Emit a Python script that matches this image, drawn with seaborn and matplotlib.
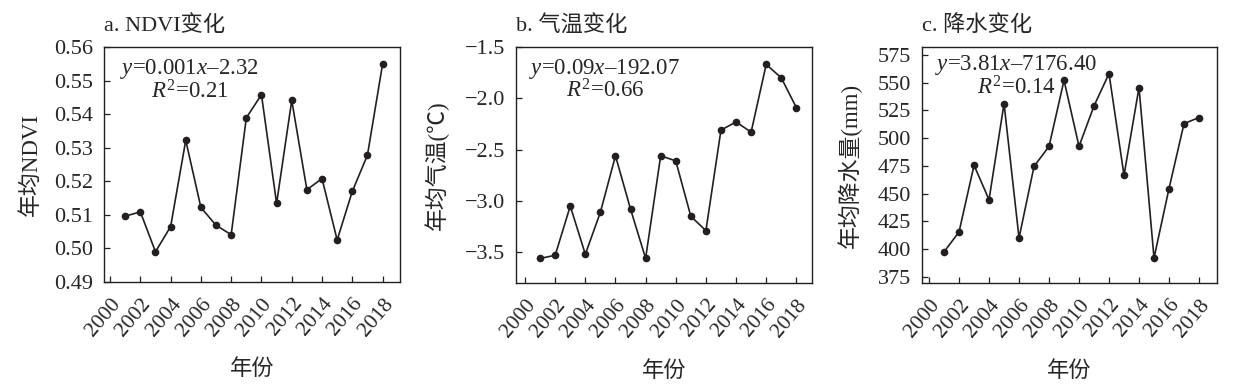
import numpy as np
import pandas as pd
import seaborn as sns
import matplotlib
matplotlib.use("Agg")
import matplotlib.pyplot as plt

# ---- data ----
years = list(range(2001, 2019))
ndvi = [0.5096, 0.5109, 0.4990, 0.5065, 0.5322, 0.5122, 0.5069, 0.5041, 0.5389,
        0.5458, 0.5134, 0.5441, 0.5175, 0.5208, 0.5025, 0.5170, 0.5278, 0.5549]
temp = [-3.56, -3.53, -3.05, -3.52, -3.11, -2.56, -3.08, -3.56, -2.56,
        -2.61, -3.15, -3.29, -2.31, -2.23, -2.33, -1.67, -1.80, -2.09]
precip = [397.5, 415.5, 475.5, 444.5, 531.0, 410.0, 474.5, 492.5, 552.0,
          492.5, 529.0, 558.0, 466.5, 545.5, 392.0, 454.5, 513.0, 518.5]
titles = ["a. NDVI变化", "b. 气温变化", "c. 降水变化"]
ylabels = ["年均NDVI", "年均气温(℃)", "年均降水量(mm)"]
xlabel = "年份"
eqs = [("0.001", "2.32", "0.21"), ("0.09", "192.07", "0.66"), ("3.81", "7176.40", "0.14")]
xticks = list(range(2000, 2019, 2))
yticks_list = [[0.49, 0.50, 0.51, 0.52, 0.53, 0.54, 0.55, 0.56],
               [-3.5, -3.0, -2.5, -2.0, -1.5],
               [375, 400, 425, 450, 475, 500, 525, 550, 575]]
ytick_fmt = ["{:.2f}", "{:.1f}", "{:.0f}"]

sns.set_theme(style="ticks")
plt.rcParams['font.family'] = ['Liberation Serif', 'Noto Sans CJK SC', 'DejaVu Sans']
plt.rcParams['mathtext.fontset'] = 'custom'
plt.rcParams['mathtext.rm'] = 'Liberation Serif'
plt.rcParams['mathtext.it'] = 'Liberation Serif:italic'
plt.rcParams['axes.unicode_minus'] = True

fig = plt.figure(figsize=(12.4, 3.9), dpi=100)
W, H = 1240, 390
boxes = [(104, 400, 47, 282), (516, 812, 47, 283), (922, 1217, 47, 283)]
xlims = [(1999.6, 2019.15), (1999.4, 2019.04), (1999.53, 2019.2)]
ylims = [(0.49, 0.56), (-3.80, -1.5), (369.5, 582)]
ylab_x = [-0.21, -0.225, -0.205]
eq_pos = [(0.29, 0.905, 0.81), (0.30, 0.905, 0.815), (0.32, 0.925, 0.825)]
series = [ndvi, temp, precip]

for i in range(3):
    l, r, t, b = boxes[i]
    ax = fig.add_axes([l / W, (H - b) / H, (r - l) / W, (b - t) / H])
    df = pd.DataFrame({"year": years, "val": series[i]})
    sns.lineplot(data=df, x="year", y="val", ax=ax, color="#231f20", linewidth=1.2,
                 marker="o", markersize=5.5, markeredgewidth=0, markerfacecolor="#231f20")
    ax.set_xlim(*xlims[i])
    ax.set_ylim(*ylims[i])
    ax.set_xticks(xticks)
    ax.set_xticklabels([str(x) for x in xticks], rotation=50, ha="right",
                       rotation_mode="anchor", fontsize=15.5)
    ax.set_yticks(yticks_list[i])
    ax.set_yticklabels([ytick_fmt[i].format(v).replace("-", "\u2212") for v in yticks_list[i]],
                       fontsize=16)
    ax.tick_params(axis="both", direction="in", length=4, width=0.9, color="#231f20")
    ax.tick_params(axis="y", pad=8)
    ax.tick_params(axis="x", pad=9)
    for s in ax.spines.values():
        s.set_linewidth(1.0)
        s.set_color("#231f20")
    ax.set_xlabel(xlabel, fontsize=16)
    ax.xaxis.set_label_coords(0.5, -0.33)
    ax.set_ylabel(ylabels[i], fontsize=16.5)
    ax.yaxis.set_label_coords(ylab_x[i], 0.5)
    ax.text(0.0, 1.09, titles[i], transform=ax.transAxes, fontsize=16, ha="left", va="center")
    k, c, r2 = eqs[i]
    cx, y1, y2 = eq_pos[i]
    ax.text(cx, y1, r"$\mathit{y}$=" + k + r"$\mathit{x}$–" + c, transform=ax.transAxes,
            fontsize=16.5, ha="center", va="center")
    ax.text(cx, y2, r"$\mathit{R}^{2}$=" + r2, transform=ax.transAxes,
            fontsize=16.5, ha="center", va="center")

fig.savefig("out.png", dpi=100, facecolor="white")
